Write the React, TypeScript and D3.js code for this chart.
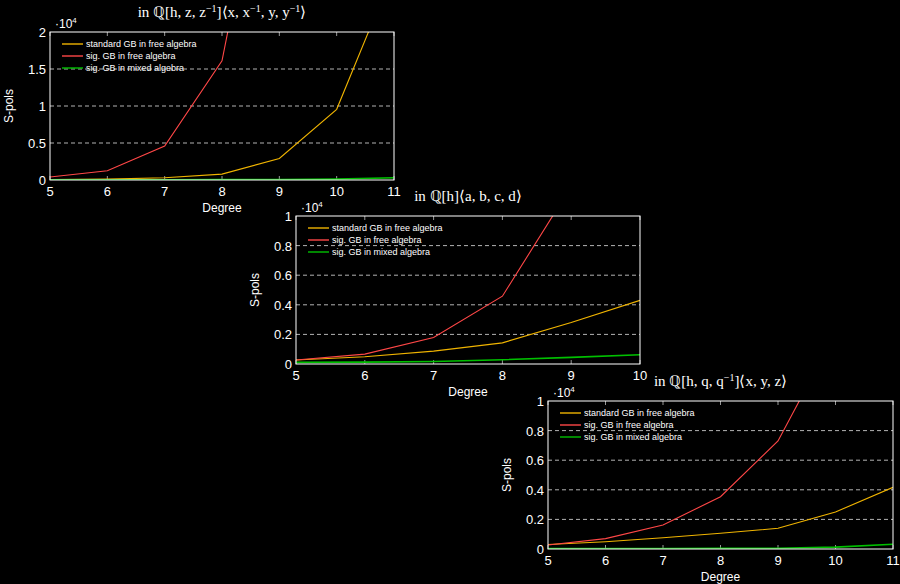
import React, { useRef, useEffect } from 'react';
import * as d3 from 'd3';

const seriesNames = ['standard GB in free algebra', 'sig. GB in free algebra', 'sig. GB in mixed algebra'];
const seriesColors = ['#f0b400', '#ff4747', '#00c000'];

// panel 1: in Q[h,z,z^-1]<x,x^-1,y,y^-1>
const degreesA = [5, 6, 7, 8, 9, 10, 11];
const standardA = [50, 120, 300, 800, 2900, 9550, 28400];
const sigFreeA = [400, 1250, 4600, 16100, 55000];
const sigMixedA = [20, 30, 40, 50, 70, 120, 300];
const yTicksA = [0, 5000, 10000, 15000, 20000];

// panel 2: in Q[h]<a,b,c,d>
const degreesB = [5, 6, 7, 8, 9, 10];
const standardB = [270, 490, 870, 1430, 2800, 4300];
const sigFreeB = [270, 670, 1790, 4580, 12000];
const sigMixedB = [110, 130, 170, 290, 450, 620];
const yTicksB = [0, 2000, 4000, 6000, 8000, 10000];

// panel 3: in Q[h,q,q^-1]<x,y,z>
const degreesC = [5, 6, 7, 8, 9, 10, 11];
const standardC = [300, 490, 760, 1060, 1400, 2500, 4170];
const sigFreeC = [270, 700, 1620, 3530, 7300, 14600];
const sigMixedC = [30, 30, 30, 40, 50, 130, 320];
const yTicksC = [0, 2000, 4000, 6000, 8000, 10000];

type Seg = { t: string; sup?: boolean };

const panels = [
  {
    title: [{ t: 'in ℚ[h, z, z' }, { t: '−1', sup: true }, { t: ']⟨x, x' }, { t: '−1', sup: true }, { t: ', y, y' }, { t: '−1', sup: true }, { t: '⟩' }] as Seg[],
    left: 50, top: 32, width: 344, height: 148,
    degrees: degreesA, series: [standardA, sigFreeA, sigMixedA], yTicks: yTicksA
  },
  {
    title: [{ t: 'in ℚ[h]⟨a, b, c, d⟩' }] as Seg[],
    left: 296, top: 216, width: 344, height: 148,
    degrees: degreesB, series: [standardB, sigFreeB, sigMixedB], yTicks: yTicksB
  },
  {
    title: [{ t: 'in ℚ[h, q, q' }, { t: '−1', sup: true }, { t: ']⟨x, y, z⟩' }] as Seg[],
    left: 548, top: 401, width: 345, height: 148,
    degrees: degreesC, series: [standardC, sigFreeC, sigMixedC], yTicks: yTicksC
  }
];

const font = '"Liberation Sans", "DejaVu Sans", sans-serif';

export default function App(): JSX.Element {
  const svgRef = useRef<SVGSVGElement>(null);
  useEffect(() => {
    const el = svgRef.current;
    if (el == null) {
      return;
    }
    const svg = d3.select(el);
    svg.selectAll('*').remove();

    panels.forEach((p, i) => {
      const x = d3
        .scaleLinear()
        .domain([p.degrees[0], p.degrees[p.degrees.length - 1]])
        .range([p.left, p.left + p.width]);
      const y = d3
        .scaleLinear()
        .domain([p.yTicks[0], p.yTicks[p.yTicks.length - 1]])
        .range([p.top + p.height, p.top]);
      const g = svg.append('g').attr('font-family', font).attr('fill', '#fff');

      g.append('clipPath')
        .attr('id', `clip${i}`)
        .append('rect')
        .attr('x', p.left)
        .attr('y', p.top)
        .attr('width', p.width)
        .attr('height', p.height);

      // dashed grid
      g.selectAll('line.grid')
        .data(p.yTicks.slice(1, -1))
        .join('line')
        .attr('class', 'grid')
        .attr('x1', p.left)
        .attr('x2', p.left + p.width)
        .attr('y1', (d) => y(d))
        .attr('y2', (d) => y(d))
        .attr('stroke', '#e0e0e0')
        .attr('stroke-width', 0.8)
        .attr('stroke-dasharray', '4,3');

      // tick marks inside
      const xt = x.ticks(p.degrees.length);
      g.selectAll('line.xt')
        .data(xt.flatMap((d) => [[d, p.top, p.top + 4], [d, p.top + p.height, p.top + p.height - 4]]))
        .join('line')
        .attr('x1', (d) => x(d[0]))
        .attr('x2', (d) => x(d[0]))
        .attr('y1', (d) => d[1])
        .attr('y2', (d) => d[2])
        .attr('stroke', '#fff')
        .attr('stroke-width', 0.6);

      // series lines
      const line = d3
        .line<number>()
        .x((_, k) => x(p.degrees[k]))
        .y((d) => y(d));
      g.append('g')
        .attr('clip-path', `url(#clip${i})`)
        .selectAll('path')
        .data(p.series)
        .join('path')
        .attr('d', (d) => line(d))
        .attr('fill', 'none')
        .attr('stroke', (_, k) => seriesColors[k])
        .attr('stroke-width', (_, k) => (k === 2 ? 1.6 : 1.1));

      // frame
      g.append('rect')
        .attr('x', p.left)
        .attr('y', p.top)
        .attr('width', p.width)
        .attr('height', p.height)
        .attr('fill', 'none')
        .attr('stroke', '#fff')
        .attr('stroke-width', 1);

      // tick labels
      g.selectAll('text.xl')
        .data(xt)
        .join('text')
        .attr('x', (d) => x(d))
        .attr('y', p.top + p.height + 16)
        .attr('text-anchor', 'middle')
        .attr('font-size', 13)
        .text((d) => d);
      g.selectAll('text.yl')
        .data(p.yTicks)
        .join('text')
        .attr('x', p.left - 4)
        .attr('y', (d) => y(d) + 5)
        .attr('text-anchor', 'end')
        .attr('font-size', 13)
        .text((d) => d3.format('~g')(d / 10000));

      // scale factor
      const sf = g.append('text').attr('x', p.left + 5).attr('y', p.top - 4).attr('font-size', 12);
      sf.append('tspan').text('·10');
      sf.append('tspan').attr('dy', -5).attr('font-size', 8).text('4');

      // axis titles
      g.append('text')
        .attr('x', p.left + p.width / 2)
        .attr('y', p.top + p.height + 32)
        .attr('text-anchor', 'middle')
        .attr('font-size', 12)
        .text('Degree');
      g.append('text')
        .attr('transform', `translate(${p.left - 37},${p.top + p.height / 2}) rotate(-90)`)
        .attr('text-anchor', 'middle')
        .attr('font-size', 12)
        .text('S-pols');

      // title
      const tt = g
        .append('text')
        .attr('x', p.left + p.width / 2)
        .attr('y', p.top - 15)
        .attr('text-anchor', 'middle')
        .attr('font-size', 15)
        .attr('font-family', '"Liberation Serif", serif');
      let up = false;
      p.title.forEach((s) => {
        const ts = tt.append('tspan').text(s.t);
        if (s.sup) {
          ts.attr('dy', -5).attr('font-size', 10);
          up = true;
        } else if (up) {
          ts.attr('dy', 5);
          up = false;
        }
      });

      // legend
      const lg = g
        .selectAll('g.lg')
        .data(seriesNames)
        .join('g')
        .attr('transform', (_, k) => `translate(${p.left + 12},${p.top + 12 + k * 12})`);
      lg.append('line')
        .attr('x1', 0)
        .attr('x2', 21)
        .attr('stroke', (_, k) => seriesColors[k])
        .attr('stroke-width', 1.4);
      lg.append('text')
        .attr('x', 24)
        .attr('y', 3)
        .attr('font-size', 9)
        .text((d) => d);
    });
  }, []);
  return (
    <svg
      ref={svgRef}
      width={900}
      height={584}
      style={{ position: 'absolute', left: 0, top: 0, background: '#000' }}
    />
  );
}
